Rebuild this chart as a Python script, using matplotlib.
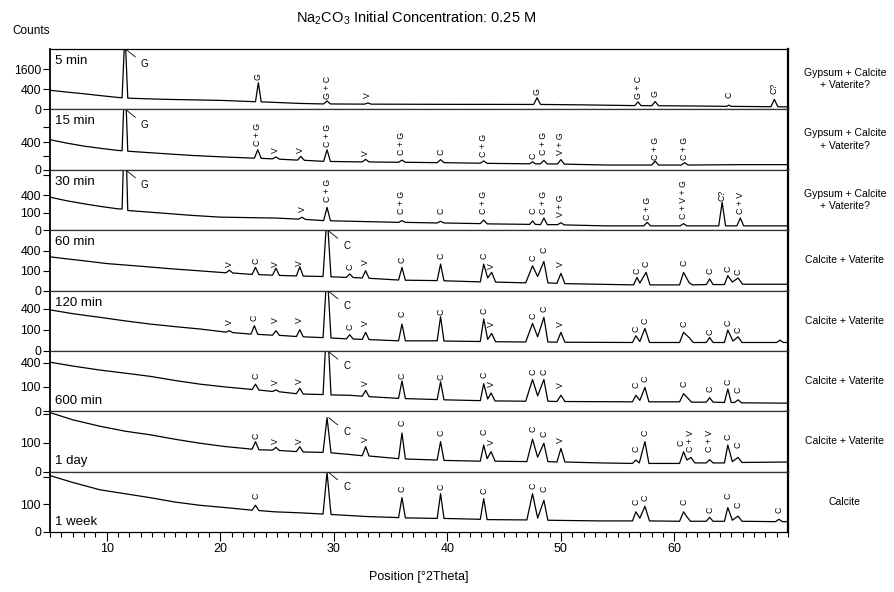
import numpy as np
import matplotlib
matplotlib.use("Agg")
import matplotlib.pyplot as plt
from matplotlib.ticker import FixedLocator, MultipleLocator, NullLocator

plt.rcParams['font.family'] = ['Liberation Sans', 'DejaVu Sans']

# (2theta, counts) points
pts_5min = [(5, 360), (6.5, 295), (8, 240), (9.5, 185), (11, 140), (11.35, 133), (11.6, 6000), (11.85, 124),
            (15, 100), (20, 80), (23.1, 58), (23.35, 700), (23.6, 56), (27, 35), (29.1, 29), (29.4, 70),
            (29.7, 29), (32.7, 27), (33.0, 40), (33.3, 27), (40, 25), (47.6, 24), (47.9, 135), (48.2, 24),
            (52, 20), (56.5, 14), (56.8, 55), (57.05, 14), (58.0, 13), (58.3, 60), (58.6, 13), (62, 11),
            (64.6, 9), (64.8, 18), (65.0, 9), (68.5, 7), (68.8, 100), (69.1, 7), (70, 6)]
pts_15min = [(5, 485), (6.5, 380), (8, 300), (9.5, 245), (11, 200), (11.35, 195), (11.6, 5000), (11.85, 185),
             (15, 140), (17.5, 110), (20, 90), (23.0, 72), (23.3, 214), (23.6, 70), (24.6, 64), (24.9, 88),
             (25.2, 60), (26.8, 50), (27.1, 96), (27.4, 48), (29.1, 38), (29.4, 214), (29.7, 37),
             (32.5, 33), (32.8, 58), (33.1, 33), (35.7, 30), (36.0, 50), (36.3, 30), (39.1, 27),
             (39.4, 55), (39.7, 27), (42.9, 23), (43.2, 42), (43.5, 22), (47.25, 19), (47.5, 34),
             (47.75, 19), (48.2, 19), (48.5, 47), (48.8, 18), (49.7, 18), (50.0, 55), (50.3, 17),
             (54, 12), (58.0, 12), (58.3, 41), (58.6, 12), (60.6, 12), (60.9, 27), (61.2, 12),
             (66, 14), (70, 14)]
pts_30min = [(5, 360), (6.5, 285), (8, 230), (9.5, 185), (11, 150), (11.35, 148), (11.6, 5000), (11.85, 128),
             (15, 95), (17.5, 72), (20, 56), (25, 48), (26.9, 40), (27.2, 55), (27.5, 38), (29.1, 30),
             (29.4, 172), (29.7, 29), (35.7, 20), (36.0, 30), (36.3, 20), (39.1, 17), (39.4, 26),
             (39.7, 17), (42.9, 14), (43.2, 34), (43.5, 13), (47.25, 11), (47.5, 28), (47.75, 11),
             (48.2, 10), (48.5, 48), (48.8, 10), (49.7, 10), (50.0, 18), (50.3, 9), (54, 6), (57.3, 6),
             (57.6, 20), (57.9, 6), (60.5, 6), (60.8, 14), (61.1, 6), (63.9, 6), (64.2, 257), (64.5, 6),
             (65.5, 6), (65.8, 49), (66.1, 6), (70, 6)]
pts_60min = [(5, 289), (6.5, 255), (8, 225), (10, 185), (13, 150), (15.5, 122), (18, 100), (20.5, 80),
             (20.8, 105), (21.1, 78), (22.8, 66), (23.1, 136), (23.4, 64), (24.6, 60), (24.9, 128),
             (25.2, 58), (26.7, 54), (27.0, 144), (27.3, 53), (29.05, 50), (29.4, 1500), (29.75, 48),
             (31.1, 44), (31.4, 70), (31.7, 43), (32.5, 40), (32.8, 100), (33.1, 38), (35.7, 28),
             (36.0, 136), (36.3, 27), (39.1, 25), (39.4, 178), (39.7, 24), (42.9, 19), (43.2, 178),
             (43.55, 40), (43.9, 84), (44.25, 18), (46.9, 15), (47.5, 156), (47.95, 50), (48.5, 215),
             (48.85, 15), (49.65, 13), (50.0, 75), (50.35, 12), (56.4, 8), (56.7, 44), (56.95, 14),
             (57.5, 84), (57.85, 8), (60.45, 8), (60.8, 84), (61.3, 15), (61.6, 8), (62.8, 9), (63.1, 34),
             (63.4, 9), (64.4, 9), (64.7, 56), (65.1, 18), (65.6, 40), (66.0, 10), (70, 10)]
pts_120min = [(5, 383), (7, 315), (9.4, 256), (11.6, 205), (13.8, 164), (16, 134), (18.2, 109), (20.5, 80),
              (20.8, 92), (21.1, 76), (22.7, 64), (23.0, 144), (23.3, 62), (24.6, 56), (24.9, 92),
              (25.2, 55), (26.7, 47), (27.0, 102), (27.3, 45), (29.05, 40), (29.4, 1500), (29.75, 38),
              (31.1, 33), (31.4, 59), (31.7, 32), (32.5, 30), (32.8, 78), (33.1, 29), (35.7, 23),
              (36.0, 164), (36.3, 23), (39.1, 23), (39.4, 267), (39.7, 22), (42.9, 20), (43.2, 232),
              (43.55, 30), (43.9, 69), (44.25, 19), (46.9, 18), (47.5, 172), (47.95, 45), (48.5, 256),
              (48.85, 18), (49.65, 17), (50.0, 78), (50.35, 17), (56.3, 16), (56.6, 52), (56.95, 20),
              (57.4, 115), (57.8, 16), (60.45, 16), (60.8, 78), (61.3, 40), (61.65, 16), (62.8, 16),
              (63.1, 41), (63.4, 16), (64.4, 16), (64.7, 99), (65.15, 22), (65.6, 45), (65.95, 16),
              (69.0, 16), (69.3, 26), (69.6, 16), (70, 16)]
pts_600min = [(5, 406), (7, 345), (9.4, 286), (11.6, 245), (13.8, 206), (16, 160), (18.2, 124), (20.4, 100),
              (22.8, 80), (23.1, 124), (23.4, 76), (24.6, 66), (24.9, 77), (25.2, 64), (26.7, 52),
              (27.0, 89), (27.3, 50), (29.05, 47), (29.4, 1500), (29.75, 45), (31.4, 43), (32.5, 38),
              (32.8, 73), (33.1, 36), (35.7, 28), (36.0, 154), (36.3, 27), (39.1, 23), (39.4, 146),
              (39.7, 22), (42.9, 19), (43.2, 128), (43.55, 25), (43.85, 56), (44.2, 18), (46.9, 17),
              (47.5, 170), (47.95, 40), (48.5, 170), (48.85, 17), (49.65, 16), (50.0, 43), (50.35, 16),
              (56.3, 15), (56.6, 43), (56.95, 20), (57.4, 96), (57.75, 15), (60.45, 15), (60.8, 52),
              (61.2, 28), (61.5, 14), (62.8, 14), (63.1, 31), (63.4, 14), (64.4, 13), (64.7, 84),
              (65.0, 13), (65.3, 13), (65.6, 22), (65.9, 12), (70, 11)]
pts_1day = [(5, 415), (7, 320), (9.4, 245), (11.6, 195), (13.8, 162), (16, 125), (18.2, 96), (20.4, 75),
            (22.8, 60), (23.1, 107), (23.4, 57), (24.6, 55), (24.9, 70), (25.2, 53), (26.7, 48),
            (27.0, 74), (27.3, 46), (29.05, 44), (29.4, 347), (29.75, 42), (31.4, 35), (32.5, 30),
            (32.8, 74), (33.1, 29), (35.7, 20), (36.0, 177), (36.3, 19), (39.1, 16), (39.4, 107),
            (39.7, 15), (42.9, 13), (43.2, 84), (43.5, 20), (43.85, 47), (44.2, 13), (47.0, 12),
            (47.5, 125), (47.95, 25), (48.5, 96), (48.85, 12), (49.65, 11), (50.0, 64), (50.35, 11),
            (53.5, 9), (56.3, 8), (56.6, 16), (56.9, 9), (57.4, 107), (57.75, 8), (60.45, 8), (60.8, 47),
            (61.1, 16), (61.45, 24), (61.8, 9), (62.8, 9), (63.1, 17), (63.4, 9), (64.4, 9), (64.7, 84),
            (65.1, 12), (65.6, 24), (65.95, 10), (70, 11)]
pts_1week = [(5, 415), (7, 320), (9.4, 232), (11.6, 191), (13.8, 154), (16, 117), (18.2, 93), (20.4, 78),
             (22.8, 62), (23.1, 93), (23.4, 60), (24.8, 53), (27, 48), (29.05, 42), (29.4, 463),
             (29.75, 40), (33, 31), (35.7, 27), (36.0, 154), (36.3, 26), (39.1, 24), (39.4, 191),
             (39.7, 24), (42.9, 21), (43.2, 145), (43.5, 20), (47.0, 19), (47.5, 191), (47.95, 25),
             (48.5, 131), (48.85, 18), (53.5, 16), (56.3, 16), (56.6, 53), (56.95, 25), (57.4, 86),
             (57.8, 16), (60.45, 15), (60.8, 53), (61.1, 30), (61.4, 15), (62.8, 15), (63.1, 28),
             (63.4, 15), (64.4, 15), (64.7, 78), (65.1, 18), (65.6, 33), (65.95, 15), (68.9, 14),
             (69.2, 21), (69.5, 14), (70, 14)]

# peak labels: (2theta, text, counts at label base); 'V' rotated reads as '>'
lab_5min = [(23.35, 'G', 841), (29.4, 'G + C', 100), (33.0, 'V', 121), (47.9, 'G', 204),
            (56.8, 'G + C', 100), (58.3, 'G', 151), (64.8, 'C', 135), (68.8, 'C?', 225)]
lab_15min = [(23.3, 'C + G', 315), (24.9, 'V', 148), (27.1, 'V', 148), (29.4, 'C + G', 273),
             (32.8, 'V', 96), (36.0, 'C + G', 110), (39.4, 'C', 110), (43.2, 'C + G', 86), (47.5, 'C', 66),
             (48.5, 'C + G', 110), (50.0, 'V + G', 110), (58.3, 'C + G', 47), (60.9, 'C + G', 47)]
lab_30min = [(27.2, 'V', 105), (29.4, 'C + G', 257), (36.0, 'C + G', 90), (39.4, 'C', 90),
             (43.2, 'C + G', 90), (47.5, 'C', 90), (48.5, 'C + G', 90), (50.0, 'V + G', 60),
             (57.6, 'C + G', 36), (60.8, 'C + V + G', 43), (64.2, 'C?', 290), (65.8, 'C + V', 90)]
lab_60min = [(20.8, 'V', 144), (23.1, 'C', 182), (24.9, 'V', 144), (27.0, 'V', 156), (31.4, 'C', 110),
             (32.8, 'V', 169), (36.0, 'C', 196), (39.4, 'C', 256), (43.2, 'C', 256), (43.9, 'V', 118),
             (47.5, 'C', 225), (48.5, 'C', 367), (50.0, 'V', 136), (56.7, 'C', 70), (57.5, 'C', 136),
             (60.8, 'C', 156), (63.1, 'C', 70), (64.7, 'C', 84), (65.6, 'C', 64)]
lab_120min = [(20.8, 'V', 156), (23.0, 'C', 208), (24.9, 'V', 181), (27.0, 'V', 181), (31.4, 'C', 99),
              (32.8, 'V', 136), (36.0, 'C', 267), (39.4, 'C', 300), (43.2, 'C', 311), (43.9, 'V', 133),
              (47.5, 'C', 232), (48.5, 'C', 339), (50.0, 'V', 133), (56.6, 'C', 77), (57.4, 'C', 164),
              (60.8, 'C', 125), (63.1, 'C', 59), (64.7, 'C', 136), (65.6, 'C', 69)]
lab_600min = [(23.1, 'C', 180), (24.9, 'V', 118), (27.0, 'V', 124), (32.8, 'V', 110), (36.0, 'C', 180),
              (39.4, 'C', 170), (43.2, 'C', 188), (43.85, 'V', 102), (47.5, 'C', 225), (48.5, 'C', 225),
              (50.0, 'V', 92), (56.6, 'C', 92), (57.4, 'C', 147), (60.8, 'C', 102), (63.1, 'C', 62),
              (64.7, 'C', 118), (65.6, 'C', 56)]
lab_1day = [(23.1, 'C', 125), (24.9, 'V', 89), (27.0, 'V', 89), (32.8, 'V', 103), (36.0, 'C', 245),
            (39.4, 'C', 147), (43.2, 'C', 162), (43.85, 'V', 84), (47.5, 'C', 183), (48.5, 'C', 142),
            (50.0, 'V', 96), (56.6, 'C', 47), (57.4, 'C', 147), (60.6, 'C', 80), (61.4, 'C + V', 47),
            (63.1, 'C + V', 47), (64.7, 'C', 120), (65.6, 'C', 64)]
lab_1week = [(23.1, 'C', 145), (36.0, 'C', 207), (39.4, 'C', 225), (43.2, 'C', 184), (47.5, 'C', 243),
             (48.5, 'C', 207), (56.6, 'C', 93), (57.4, 'C', 125), (60.8, 'C', 93), (63.1, 'C', 48),
             (64.7, 'C', 145), (65.6, 'C', 78), (69.2, 'C', 48)]

names = ['5 min', '15 min', '30 min', '60 min', '120 min', '600 min', '1 day', '1 week']
phases = ['Gypsum + Calcite\n+ Vaterite?'] * 3 + ['Calcite + Vaterite'] * 4 + ['Calcite']
y_tops = [3600, 1960, 1210, 930, 830, 615, 434, 475]
y_ticks = [[0, 400, 1600], [0, 100, 400, 1000], [0, 100, 400, 1000], [0, 100, 400],
           [0, 100, 400], [0, 100, 400], [0, 100, 400], [0, 100, 400]]
y_ticklabels = [['0', '400', '1600'], ['0', '', '400', ''], ['0', '100', '400', ''], ['0', '100', '400'],
                ['0', '100', '400'], ['0', '100', '400'], ['0', '100', ''], ['0', '100', '']]
leaders = [(11.6, 'G')] * 3 + [(29.4, 'C')] * 5
x_ticks = [10, 20, 30, 40, 50, 60]

patterns = [pts_5min, pts_15min, pts_30min, pts_60min, pts_120min, pts_600min, pts_1day, pts_1week]
labels = [lab_5min, lab_15min, lab_30min, lab_60min, lab_120min, lab_600min, lab_1day, lab_1week]


def fwd(v):
    return np.sqrt(np.clip(v, 0, None))


def inv(v):
    return np.square(v)


fig = plt.figure(figsize=(8.94, 5.92), dpi=100)
axes = fig.subplots(8, 1, sharex=True, gridspec_kw={'hspace': 0})
fig.subplots_adjust(left=50 / 894, right=788 / 894, top=1 - 49 / 592, bottom=1 - 532 / 592)

for i, ax in enumerate(axes):
    xs, ys = zip(*patterns[i])
    ax.plot(xs, ys, color='black', lw=0.9)
    ax.set_yscale('function', functions=(fwd, inv))
    ax.set_xlim(5, 70)
    ax.set_ylim(0, y_tops[i])
    ax.set_yticks(y_ticks[i])
    ax.set_yticklabels(y_ticklabels[i])
    ax.yaxis.set_minor_locator(NullLocator())
    ax.tick_params(axis='y', length=5, width=0.8, pad=1.5, labelsize=8.8, direction='out')

    for side in ['top', 'bottom']:
        ax.spines[side].set_linewidth(0.9)
        ax.spines[side].set_color('#333333')
    ax.spines['left'].set_linewidth(1.3)
    ax.spines['right'].set_linewidth(1.6)

    for x, txt, yb in labels[i]:
        ax.text(x, yb, txt, rotation=90, ha='center', va='bottom', fontsize=6.3)

    # leader-line label on the strongest peak
    lx, ltxt = leaders[i]
    apex = max(y for x, y in patterns[i] if abs(x - lx) < 0.05)
    ly = min(apex, y_tops[i] * 0.97)
    ax.annotate(ltxt, xy=(lx + 0.15, ly), xytext=(13, -10.5), textcoords='offset points',
                ha='center', va='center', fontsize=7,
                arrowprops=dict(arrowstyle='-', lw=0.6, color='black', shrinkA=2.5, shrinkB=0))

    if i < 5:
        ax.text(0.007, 0.75, names[i], transform=ax.transAxes, fontsize=9.5, va='baseline')
    else:
        ax.text(0.007, 0.12, names[i], transform=ax.transAxes, fontsize=9.5, va='baseline')

    ax.text(1.077, 0.5, phases[i], transform=ax.transAxes, ha='center', va='center',
            fontsize=7.5, linespacing=1.3)

    if i < 7:
        ax.tick_params(axis='x', which='both', bottom=False, top=False, labelbottom=False)

axes[0].spines['top'].set_color('black')
axes[-1].spines['bottom'].set_color('black')

bot = axes[-1]
bot.xaxis.set_major_locator(FixedLocator(x_ticks))
bot.xaxis.set_minor_locator(MultipleLocator(1))
bot.tick_params(axis='x', which='major', length=6.5, width=0.8, pad=1.5, labelsize=9)
bot.tick_params(axis='x', which='minor', length=3.4, width=0.8)

fig.text(419 / 894, 1 - 577 / 592, 'Position [°2Theta]', ha='center', va='center', fontsize=9)
fig.text(416 / 894, 1 - 18 / 592, r'Na$_\mathregular{2}$CO$_\mathregular{3}$ Initial Concentration: 0.25 M',
         ha='center', va='center', fontsize=10.5)
fig.text(31 / 894, 1 - 31 / 592, 'Counts', ha='center', va='center', fontsize=8.5)

fig.savefig('out.png', dpi=100)
